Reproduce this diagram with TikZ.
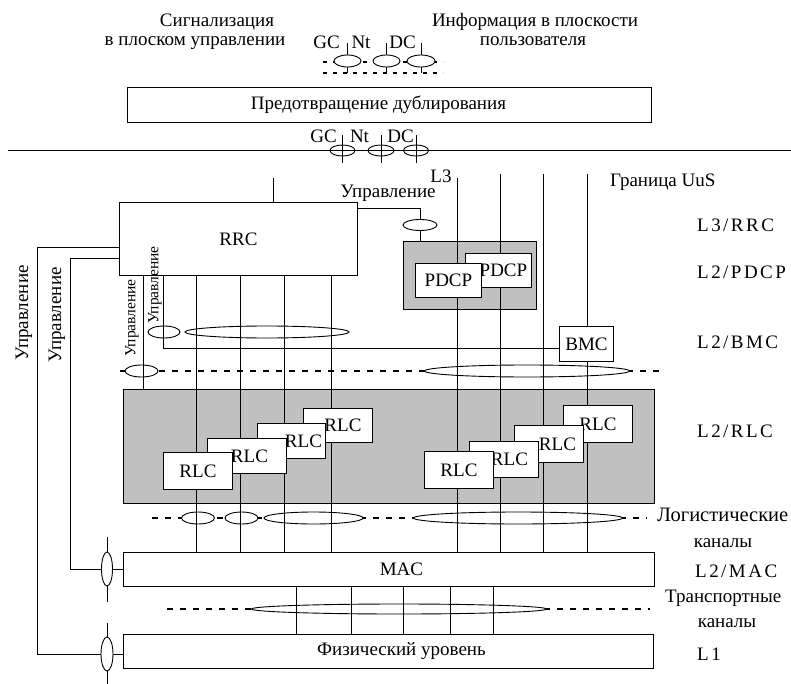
\documentclass[tikz,border=0pt]{standalone}
\usepackage{fontspec}
\setmainfont{Liberation Serif}
\newfontfamily\widefont[LetterSpace=13]{Liberation Serif}
\usetikzlibrary{shapes.geometric}
\definecolor{panel}{RGB}{192,192,192}
\pgfdeclarelayer{panels}
\pgfdeclarelayer{dashes}
\pgfdeclarelayer{chans}
\pgfdeclarelayer{wires}
\pgfsetlayers{panels,dashes,chans,wires,main}
\begin{document}
\begin{tikzpicture}[x=1pt,y=-1pt,line width=0.9pt,font=\fontsize{19}{22}\selectfont,
 box/.style={draw,fill=white,inner sep=0pt,anchor=north west,line width=0.9pt},
 panelbox/.style={draw,fill=panel,inner sep=0pt,anchor=north west,line width=0.9pt},
 chan/.style={ellipse,draw,fill=white,inner sep=0pt,line width=0.9pt},
 ring/.style={ellipse,draw,inner sep=0pt,line width=0.9pt},
 wire/.style={line width=0.9pt},
 dsh/.style={line width=1.5pt,dash pattern=on 6pt off 7pt},
 sdsh/.style={line width=1.3pt,dash pattern=on 4pt off 6pt},
 txt/.style={inner sep=0pt,anchor=base},
 lvl/.style={inner sep=0pt,anchor=base west,font=\fontsize{19}{22}\widefont},
 vtxt/.style={inner sep=0pt,rotate=90},
 smallv/.style={inner sep=0pt,rotate=90,font=\fontsize{15.5}{18}\selectfont}]
\useasboundingbox (0,0) rectangle (791,684);

% ---------- boxes (main layer) ----------
\node[box,minimum width=524pt,minimum height=35pt] (dup) at (127,87) {\hspace*{-22pt}Предотвращение дублирования};
\node[box,minimum width=238pt,minimum height=73pt] (rrc) at (119,202) {RRC};
\begin{pgfonlayer}{panels}
\begin{scope}[line width=0.9pt]
\node[panelbox,minimum width=133pt,minimum height=68pt] (pdcpbg) at (403,241) {};
\node[panelbox,minimum width=531pt,minimum height=114pt] (rlcbg) at (123,389) {};
\end{scope}
\end{pgfonlayer}
\node[box,minimum width=66pt,minimum height=34pt] (pdcpb) at (465,253) {\hspace*{10pt}PDCP};
\node[box,minimum width=66pt,minimum height=34pt] (pdcpa) at (415,263) {PDCP};
\node[box,minimum width=54pt,minimum height=35pt] (bmc) at (559,326) {BMC};
% left RLC stack
\node[box,minimum width=69pt,minimum height=34pt] (rlcl4) at (303,408) {\hspace*{10pt}RLC};
\node[box,minimum width=68pt,minimum height=35pt] (rlcl3) at (257,423) {\hspace*{24pt}RLC};
\node[box,minimum width=79pt,minimum height=35pt] (rlcl2) at (207,438) {\hspace*{5pt}RLC};
\node[box,minimum width=69pt,minimum height=37pt] (rlcl1) at (163,452) {RLC};
% right RLC stack
\node[box,minimum width=69pt,minimum height=37pt] (rlcr4) at (563,405) {RLC};
\node[box,minimum width=69pt,minimum height=37pt] (rlcr3) at (514,425) {\hspace*{17pt}RLC};
\node[box,minimum width=69pt,minimum height=36pt] (rlcr2) at (469,441) {\hspace*{11pt}RLC};
\node[box,minimum width=69pt,minimum height=37pt] (rlcr1) at (424,451) {RLC};
\node[box,minimum width=531pt,minimum height=34pt] (mac) at (123,552) {\hspace*{25pt}MAC};
\node[box,minimum width=530pt,minimum height=34pt] (phy) at (123,634) {\hspace*{26pt}Физический уровень};

% ---------- dashed channel lines ----------
\begin{pgfonlayer}{dashes}
\begin{scope}[line width=0.9pt]
\draw[sdsh] (323,62) -- (443,62);
\draw[sdsh] (323,73) -- (443,73);
\draw[dsh] (120,371) -- (662,371);
\draw[dsh] (152,518) -- (647,518);
\draw[dsh] (167,609) -- (650,609);
\end{scope}
\end{pgfonlayer}

% ---------- channel ellipses ----------
\begin{pgfonlayer}{chans}
\begin{scope}[line width=0.9pt]
\node[chan,minimum width=27pt,minimum height=12pt] (t1) at (347.5,61) {};
\node[chan,minimum width=27pt,minimum height=12pt] (t2) at (386.5,61) {};
\node[chan,minimum width=28pt,minimum height=12pt] (t3) at (421,61) {};
\node[chan,minimum width=34pt,minimum height=11pt] (ctl) at (420,225) {};
\node[chan,minimum width=32pt,minimum height=12pt] (e1) at (164,332) {};
\node[chan,minimum width=164pt,minimum height=12pt] (e2) at (267,332) {};
\node[chan,minimum width=33pt,minimum height=12pt] (e3) at (141.5,371) {};
\node[chan,minimum width=205pt,minimum height=12pt] (e4) at (527,371) {};
\node[chan,minimum width=33pt,minimum height=12pt] (e5) at (198,518) {};
\node[chan,minimum width=33pt,minimum height=12pt] (e6) at (241.5,518) {};
\node[chan,minimum width=99pt,minimum height=12pt] (e7) at (313.5,518) {};
\node[chan,minimum width=209pt,minimum height=12pt] (e8) at (518,518) {};
\node[chan,minimum width=295pt,minimum height=10pt] (e9) at (399,609) {};
\end{scope}
\end{pgfonlayer}

% ---------- wires ----------
\begin{pgfonlayer}{wires}
\begin{scope}[line width=0.9pt]
% top ticks
\foreach \n in {t1,t2,t3}{
  \draw[wire] (\n.north) -- ++(0,-12);
  \draw[wire] (\n.south) -- ++(0,6);
}
% boundary line with GC/Nt/DC
\node[ring,minimum width=25pt,minimum height=11pt] (b1) at (342.5,150.5) {};
\node[ring,minimum width=26pt,minimum height=11pt] (b2) at (381,150.5) {};
\node[ring,minimum width=25pt,minimum height=11pt] (b3) at (416,150.5) {};
\draw[wire] (8,150) -- (791,150);
\foreach \n in {b1,b2,b3}{
  \draw[wire] (\n.center) ++(0,-15) -- ++(0,28);
}
% RRC feeds
\draw[wire] (273,178) -- (273,0 |- rrc.north);
\draw[wire] (rrc.east |- 0,208) -- (420,208) -- (ctl.north);
\draw[wire] (ctl.south) -- (pdcpbg.north -| ctl.south);
\foreach \x in {196,240,284,331}{
  \draw[wire] (\x,0 |- rrc.south) -- (\x,0 |- mac.north);
}
\draw[wire] (143,0 |- rrc.south) -- (143,0 |- rlcbg.north);
\draw[wire] (163,0 |- rrc.south) -- (163,348) -- (bmc.west |- 0,348);
% user plane lines
\draw[wire] (457,178) -- (457,0 |- mac.north);
\draw[wire] (500,174) -- (500,0 |- mac.north);
\draw[wire] (543,174) -- (543,0 |- mac.north);
\draw[wire] (587,174) -- (587,0 |- bmc.north);
\draw[wire] (587,0 |- bmc.south) -- (587,0 |- mac.north);
% transport channels
\foreach \x in {296,351,403,450,493}{
  \draw[wire] (\x,0 |- mac.south) -- (\x,0 |- phy.north);
}
% control lines to MAC and PHY
\node[chan,minimum width=11pt,minimum height=34pt] (v1) at (107,569) {};
\node[chan,minimum width=12pt,minimum height=34pt] (v2) at (107,654) {};
\draw[wire] (rrc.west |- 0,247) -- (37,247) -- (37,654) -- (v2.west);
\draw[wire] (v2.east) -- (phy.west |- v2.east);
\draw[wire] (rrc.west |- 0,258) -- (70,258) -- (70,569) -- (v1.west);
\draw[wire] (v1.east) -- (mac.west |- v1.east);
\draw[wire] (v1.north) -- ++(0,-15);
\draw[wire] (v1.south) -- ++(0,16);
\draw[wire] (v2.north) -- ++(0,-14);
\draw[wire] (v2.south) -- ++(0,14);
\end{scope}
\end{pgfonlayer}

% ---------- texts ----------
\node[txt] (sig1) at (217,27) {Сигнализация};
\node[txt] (sig2) at (195,46) {в плоском управлении};
\node[txt] (inf1) at (535,27) {Информация в плоскости};
\node[txt] (inf2) at (533,46) {пользователя};
\node[txt] (gc1) at (326.5,49) {GC};
\node[txt] (nt1) at (361,49) {Nt};
\node[txt] (dc1) at (402.5,49) {DC};
\node[txt] (gc2) at (323.5,143) {GC};
\node[txt] (nt2) at (359.5,143) {Nt};
\node[txt] (dc2) at (400.5,143) {DC};
\node[txt] (ctltxt) at (388,198) {Управление};
\node[txt] (l3) at (441,183) {L3};
\node[inner sep=0pt,anchor=base west] (uus) at (610,187) {Граница UuS};
\node[lvl] (lrrc) at (697,232) {L3/RRC};
\node[lvl] (lpdcp) at (697,278) {L2/PDCP};
\node[lvl] (lbmc) at (697,348) {L2/BMC};
\node[lvl] (lrlc) at (697,437) {L2/RLC};
\node[inner sep=0pt,anchor=base west,font=\fontsize{20.5}{24}\selectfont] (log1) at (657,521) {Логистические};
\node[txt] (log2) at (723,547) {каналы};
\node[lvl] (lmac) at (695,577) {L2/MAC};
\node[inner sep=0pt,anchor=base west] (tr1) at (665,602) {Транспортные};
\node[txt] (tr2) at (727,627) {каналы};
\node[lvl] (lphy) at (697,660) {L1};
\node[vtxt] (u1) at (24,313) {Управление};
\node[vtxt] (u2) at (57,315) {Управление};
\node[smallv] (u3) at (132,318) {Управление};
\node[smallv] (u4) at (155,285) {Управление};
\end{tikzpicture}
\end{document}
